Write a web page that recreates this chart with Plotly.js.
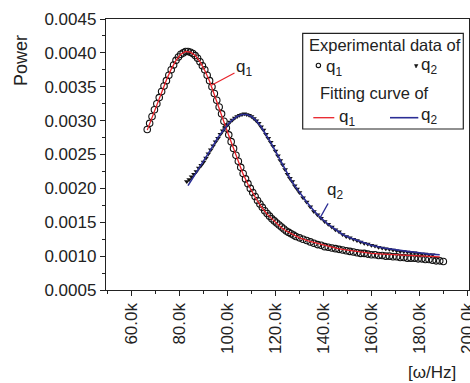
<!DOCTYPE html>
<html>
<head>
<meta charset="utf-8">
<script src="https://cdn.plot.ly/plotly-3.0.1.min.js"></script>
<style>html,body{margin:0;padding:0;background:#fff;}#chart{width:470px;height:383px;}</style>
</head>
<body>
<div id="chart"></div>
<script>
// Experimental data q1 (frequency in Hz, power)
var q1X = [66500,67500,68500,69500,70500,71500,72500,73500,74500,75500,76500,77500,78500,79500,80500,81500,82500,83500,84500,85500,86500,87500,88500,89500,90500,91500,92500,93500,94500,95500,96500,97500,98500,99500,100500,101500,102500,103500,104500,105500,106500,107500,108500,109500,110500,111500,112500,113500,114500,115500,116500,117500,118500,119500,120500,121500,122500,123500,124500,125500,126500,127500,128500,130000,131500,133000,134500,136000,137500,139000,140500,142000,143500,145000,146500,148000,149500,151000,152500,154000,155500,157000,158500,160000,161500,163000,164500,166000,167500,169000,170500,172000,173500,175000,176500,178000,179500,181000,182500,184000,185500,187000,188500,190000];
var q1Y = [0.00287,0.00296,0.00306,0.00316,0.00325,0.00334,0.00343,0.00351,0.00359,0.00367,0.00375,0.00382,0.00389,0.00394,0.00398,0.00400,0.00402,0.00402,0.00401,0.00399,0.00396,0.00392,0.00387,0.00381,0.00375,0.00367,0.00359,0.00350,0.00340,0.00330,0.00320,0.00310,0.00299,0.00289,0.00279,0.00269,0.00259,0.00249,0.00240,0.00231,0.00222,0.00214,0.00207,0.00200,0.00194,0.00188,0.00182,0.00177,0.00172,0.00167,0.00163,0.00159,0.00155,0.00152,0.00149,0.00146,0.00143,0.00140,0.00137,0.00135,0.00133,0.00131,0.00129,0.00127,0.00125,0.00123,0.00121,0.00119,0.00117,0.00116,0.00114,0.00113,0.00112,0.00111,0.00110,0.00109,0.00108,0.00107,0.00106,0.00105,0.00104,0.00104,0.00103,0.00102,0.00102,0.00101,0.00101,0.00100,0.00100,0.00099,0.00099,0.00098,0.00098,0.00097,0.00097,0.00097,0.00096,0.00096,0.00095,0.00095,0.00094,0.00093,0.00093,0.00092];

// Experimental data q2
var q2X = [83000,84000,85000,86000,87000,88000,89000,90000,91000,92000,93000,94000,95000,96000,97000,98000,99000,100000,101000,102000,103000,104000,105000,106000,107000,108000,109000,110000,111000,112000,113000,114000,115000,116000,117000,118000,119000,120000,121000,122000,123000,124000,125000,126000,127000,128000,129000,130000,131500,133000,134500,136000,137500,139000,140500,142000,143500,145000,146500,148000,149500,151000,152500,154000,155500,157000,158500,160000,161500,163000,164500,166000,167500,169000,170500,172000,173500,175000,176500,178000,179500,181000,182500,184000,185500];
var q2Y = [0.00210,0.00213,0.00217,0.00221,0.00225,0.00230,0.00234,0.00239,0.00245,0.00251,0.00257,0.00263,0.00269,0.00274,0.00280,0.00285,0.00290,0.00294,0.00298,0.00301,0.00304,0.00306,0.00308,0.00309,0.00310,0.00309,0.00308,0.00306,0.00303,0.00300,0.00296,0.00291,0.00286,0.00280,0.00274,0.00268,0.00262,0.00255,0.00248,0.00241,0.00235,0.00228,0.00221,0.00215,0.00210,0.00204,0.00199,0.00194,0.00186,0.00180,0.00173,0.00166,0.00161,0.00156,0.00151,0.00147,0.00143,0.00139,0.00136,0.00132,0.00129,0.00127,0.00125,0.00123,0.00121,0.00119,0.00118,0.00116,0.00115,0.00113,0.00112,0.00111,0.00110,0.00109,0.00108,0.00107,0.00107,0.00106,0.00105,0.00105,0.00104,0.00103,0.00103,0.00102,0.00102];

// Fitting curve q1
var fit1X = [66500,68500,70500,72500,74500,76500,78500,80500,82500,84500,86500,88500,90500,92500,94500,96500,98500,100500,102500,104500,106500,108500,110500,112500,114500,116500,118500,120500,122500,124500,127000,130000,134000,138000,142000,146000,150000,155000,160000,165000,170000,175000,180000,184000,188500];
var fit1Y = [0.00286,0.00305,0.00325,0.00343,0.00360,0.00376,0.00389,0.00398,0.00402,0.00401,0.00396,0.00387,0.00374,0.00358,0.00339,0.00319,0.00298,0.00278,0.00258,0.00239,0.00221,0.00206,0.00193,0.00181,0.00171,0.00162,0.00155,0.00148,0.00142,0.00137,0.00132,0.00127,0.00122,0.00118,0.00114,0.00111,0.00109,0.00106,0.00104,0.00103,0.00102,0.00101,0.00100,0.00100,0.00099];

// Fitting curve q2
var fit2X = [83500,86000,88000,90000,92000,94000,96000,98000,100000,102000,104000,106000,108000,110000,112000,114000,116000,118000,120000,122000,124000,126000,128000,130000,133000,136000,139000,142000,145000,148000,151000,155000,160000,165000,170000,175000,180000,184000,188500];
var fit2Y = [0.00204,0.00218,0.00228,0.00239,0.00251,0.00263,0.00275,0.00285,0.00294,0.00301,0.00306,0.00309,0.00309,0.00306,0.00300,0.00291,0.00280,0.00268,0.00255,0.00241,0.00228,0.00215,0.00204,0.00194,0.00180,0.00167,0.00156,0.00147,0.00139,0.00132,0.00127,0.00122,0.00116,0.00112,0.00109,0.00107,0.00105,0.00103,0.00102];

var xTickVals = [60000,80000,100000,120000,140000,160000,180000,200000];
var xTickText = ['60.0k','80.0k','100.0k','120.0k','140.0k','160.0k','180.0k','200.0k'];

var FONT = 'Liberation Sans, Arial, sans-serif';
var TXT = '#222';

var traces = [
  {x: q2X, y: q2Y, mode: 'markers', type: 'scatter',
   marker: {symbol: 'triangle-down', size: 5, color: '#111'}},
  {x: q1X, y: q1Y, mode: 'markers', type: 'scatter',
   marker: {symbol: 'circle-open', size: 6.5, color: '#111', line: {width: 1.1, color: '#111'}}},
  {x: fit1X, y: fit1Y, mode: 'lines', type: 'scatter', line: {color: '#e8222a', width: 1.3}},
  {x: fit2X, y: fit2Y, mode: 'lines', type: 'scatter', line: {color: '#2b2e95', width: 1.6}}
];

function px2fx(p){ return (p - 106) / 363; }
function py2fy(p){ return 1 - (p - 19) / 271; }

var layout = {
  width: 470, height: 383,
  margin: {l: 106, r: 1, t: 19, b: 93},
  paper_bgcolor: '#fff', plot_bgcolor: '#fff',
  showlegend: false,
  font: {family: FONT, size: 17, color: TXT},
  xaxis: {
    range: [49300, 200700], showgrid: false, zeroline: false,
    showline: true, mirror: true, linecolor: '#222', linewidth: 1.2,
    tickmode: 'array', tickvals: xTickVals, ticktext: xTickText,
    tickangle: -90, ticks: 'outside', ticklen: 5, tickwidth: 1, tickcolor: '#222',
    ticklabeloverflow: 'allow',
    tickfont: {family: FONT, size: 17, color: TXT},
    minor: {tickmode: 'linear', tick0: 0, dtick: 10000, ticks: 'outside', ticklen: 3, tickcolor: '#222'}
  },
  yaxis: {
    range: [0.0005, 0.0045], showgrid: false, zeroline: false,
    showline: true, mirror: true, linecolor: '#222', linewidth: 1.2,
    tickmode: 'linear', tick0: 0.0005, dtick: 0.0005, tickformat: '.4f',
    ticks: 'outside', ticklen: 5, tickwidth: 1, tickcolor: '#222',
    ticklabeloverflow: 'allow',
    tickfont: {family: FONT, size: 17, color: TXT},
    minor: {tickmode: 'linear', tick0: 0, dtick: 0.00025, ticks: 'outside', ticklen: 3, tickcolor: '#222'}
  },
  shapes: [
    {type: 'rect', xref: 'paper', yref: 'paper', x0: px2fx(302.7), x1: px2fx(463.3), y0: py2fy(129), y1: py2fy(33.3),
     line: {color: '#222', width: 1.2}, fillcolor: '#fff'},
    {type: 'circle', xref: 'paper', yref: 'paper', x0: px2fx(316.2), x1: px2fx(320.6), y0: py2fy(67.6), y1: py2fy(63.2),
     line: {color: '#111', width: 1.1}},
    {type: 'path', xref: 'paper', yref: 'paper',
     path: 'M ' + px2fx(414.5) + ' ' + py2fy(64.5) + ' L ' + px2fx(418) + ' ' + py2fy(64.5) + ' L ' + px2fx(416) + ' ' + py2fy(68) + ' Z',
     fillcolor: '#111', line: {color: '#111', width: 0.5}},
    {type: 'line', xref: 'paper', yref: 'paper', x0: px2fx(313.3), x1: px2fx(334.3), y0: py2fy(117.7), y1: py2fy(117.7),
     line: {color: '#e8222a', width: 1.3}},
    {type: 'line', xref: 'paper', yref: 'paper', x0: px2fx(390), x1: px2fx(418.3), y0: py2fy(117.7), y1: py2fy(117.7),
     line: {color: '#2b2e95', width: 1.6}}
  ],
  annotations: [
    {text: 'Power', xref: 'paper', yref: 'paper', x: px2fx(21), y: py2fy(61), textangle: -90,
     showarrow: false, xanchor: 'center', yanchor: 'middle', font: {family: FONT, size: 18, color: TXT}},
    {text: '[ω/Hz]', xref: 'paper', yref: 'paper', x: px2fx(432), y: py2fy(372),
     showarrow: false, xanchor: 'center', yanchor: 'middle', font: {family: FONT, size: 17, color: TXT}},
    {text: 'Experimental data of', xref: 'paper', yref: 'paper', x: px2fx(306.5), y: py2fy(45),
     showarrow: false, xanchor: 'left', yanchor: 'middle', font: {family: FONT, size: 16.5, color: TXT}},
    {text: 'q<sub>1</sub>', xref: 'paper', yref: 'paper', x: px2fx(324), y: py2fy(68),
     showarrow: false, xanchor: 'left', yanchor: 'middle', font: {family: FONT, size: 17, color: TXT}},
    {text: 'q<sub>2</sub>', xref: 'paper', yref: 'paper', x: px2fx(418.5), y: py2fy(66),
     showarrow: false, xanchor: 'left', yanchor: 'middle', font: {family: FONT, size: 17, color: TXT}},
    {text: 'Fitting curve of', xref: 'paper', yref: 'paper', x: px2fx(317.5), y: py2fy(92.7),
     showarrow: false, xanchor: 'left', yanchor: 'middle', font: {family: FONT, size: 16.5, color: TXT}},
    {text: 'q<sub>1</sub>', xref: 'paper', yref: 'paper', x: px2fx(337), y: py2fy(118),
     showarrow: false, xanchor: 'left', yanchor: 'middle', font: {family: FONT, size: 17, color: TXT}},
    {text: 'q<sub>2</sub>', xref: 'paper', yref: 'paper', x: px2fx(418.5), y: py2fy(116),
     showarrow: false, xanchor: 'left', yanchor: 'middle', font: {family: FONT, size: 17, color: TXT}},
    {text: 'q<sub>1</sub>', xref: 'x', yref: 'y', x: 93500, y: 0.003526, ax: 32, ay: -17,
     showarrow: true, arrowhead: 0, arrowwidth: 1.2, arrowcolor: '#e8222a',
     font: {family: FONT, size: 17, color: TXT}},
    {text: 'q<sub>2</sub>', xref: 'x', yref: 'y', x: 138560, y: 0.001563, ax: 15, ay: -27,
     showarrow: true, arrowhead: 0, arrowwidth: 1.4, arrowcolor: '#2b2e95',
     font: {family: FONT, size: 17, color: TXT}}
  ]
};

Plotly.newPlot('chart', traces, layout, {staticPlot: true, displayModeBar: false});
</script>
</body>
</html>
